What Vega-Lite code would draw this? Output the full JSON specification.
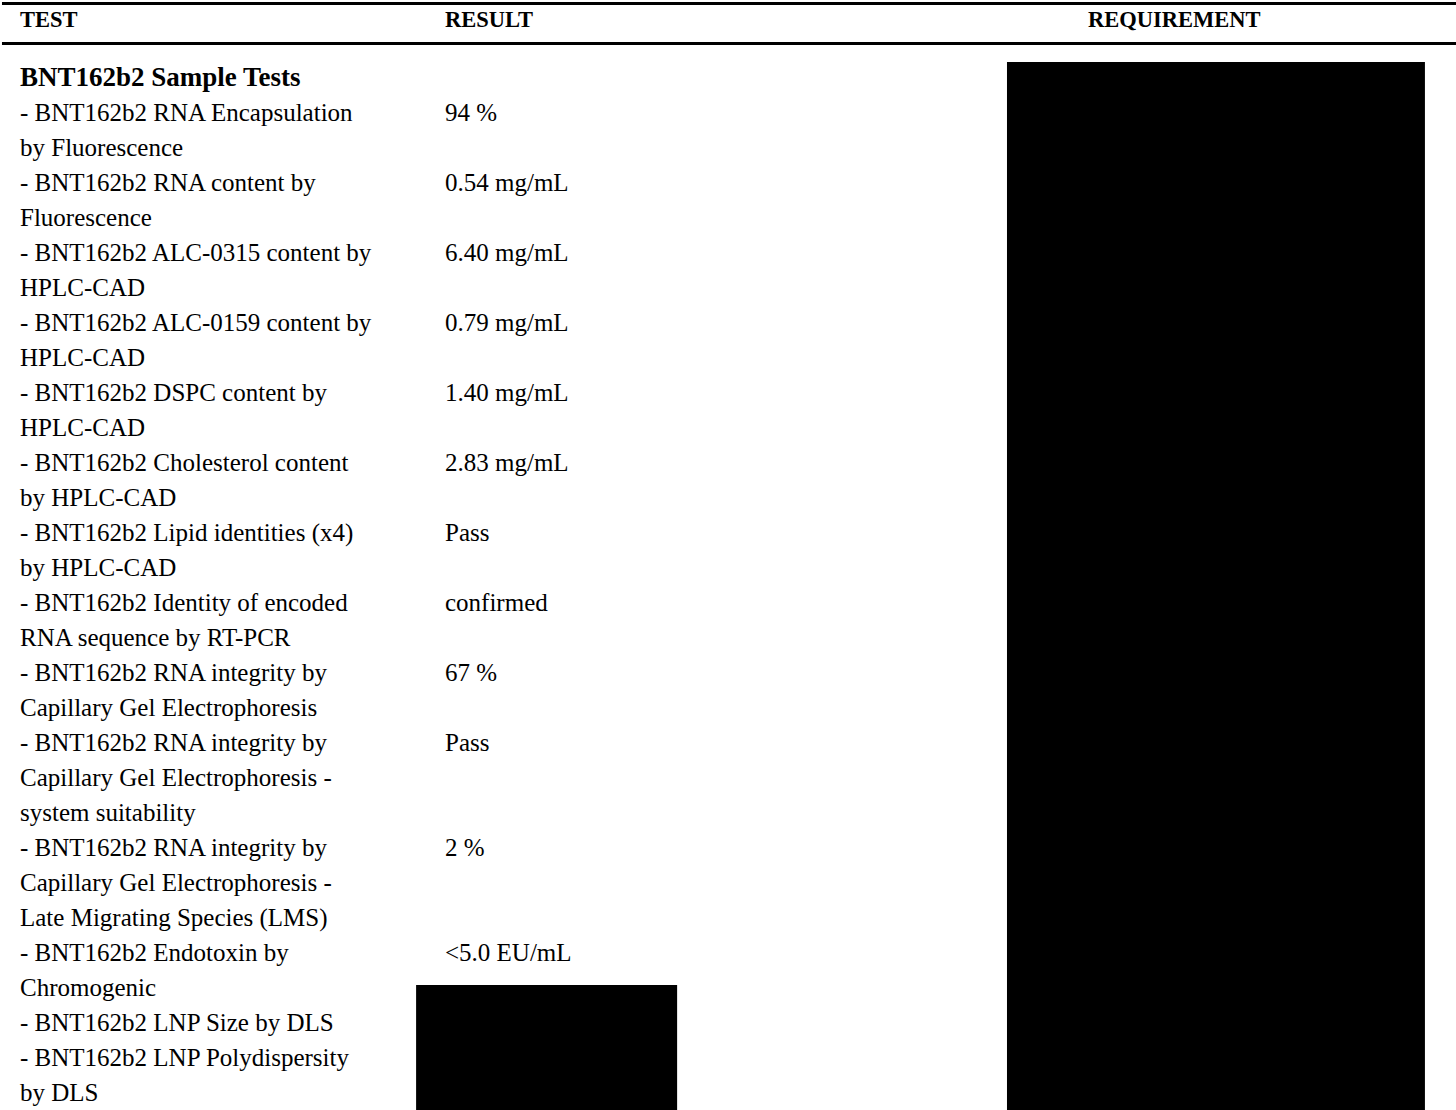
{
  "$schema": "https://vega.github.io/schema/vega-lite/v6.json",
  "width": 1456,
  "height": 1110,
  "autosize": {"type": "fit", "contains": "padding"},
  "padding": 0,
  "background": "white",
  "config": {"view": {"stroke": null}},
  "datasets": {
    "cells": [
      {"line": -1.657, "col": 0, "text": "TEST", "style": "header"},
      {"line": -1.657, "col": 1, "text": "RESULT", "style": "header"},
      {"line": -1.657, "col": 2, "text": "REQUIREMENT", "style": "header"},
      {"line": 0, "col": 0, "text": "BNT162b2 Sample Tests", "style": "section"},
      {"line": 1, "col": 0, "text": "- BNT162b2 RNA Encapsulation", "style": "body"},
      {"line": 1, "col": 1, "text": "94 %", "style": "body"},
      {"line": 2, "col": 0, "text": "by Fluorescence", "style": "body"},
      {"line": 3, "col": 0, "text": "- BNT162b2 RNA content by", "style": "body"},
      {"line": 3, "col": 1, "text": "0.54 mg/mL", "style": "body"},
      {"line": 4, "col": 0, "text": "Fluorescence", "style": "body"},
      {"line": 5, "col": 0, "text": "- BNT162b2 ALC-0315 content by", "style": "body"},
      {"line": 5, "col": 1, "text": "6.40 mg/mL", "style": "body"},
      {"line": 6, "col": 0, "text": "HPLC-CAD", "style": "body"},
      {"line": 7, "col": 0, "text": "- BNT162b2 ALC-0159 content by", "style": "body"},
      {"line": 7, "col": 1, "text": "0.79 mg/mL", "style": "body"},
      {"line": 8, "col": 0, "text": "HPLC-CAD", "style": "body"},
      {"line": 9, "col": 0, "text": "- BNT162b2 DSPC content by", "style": "body"},
      {"line": 9, "col": 1, "text": "1.40 mg/mL", "style": "body"},
      {"line": 10, "col": 0, "text": "HPLC-CAD", "style": "body"},
      {"line": 11, "col": 0, "text": "- BNT162b2 Cholesterol content", "style": "body"},
      {"line": 11, "col": 1, "text": "2.83 mg/mL", "style": "body"},
      {"line": 12, "col": 0, "text": "by HPLC-CAD", "style": "body"},
      {"line": 13, "col": 0, "text": "- BNT162b2 Lipid identities (x4)", "style": "body"},
      {"line": 13, "col": 1, "text": "Pass", "style": "body"},
      {"line": 14, "col": 0, "text": "by HPLC-CAD", "style": "body"},
      {"line": 15, "col": 0, "text": "- BNT162b2 Identity of encoded", "style": "body"},
      {"line": 15, "col": 1, "text": "confirmed", "style": "body"},
      {"line": 16, "col": 0, "text": "RNA sequence by RT-PCR", "style": "body"},
      {"line": 17, "col": 0, "text": "- BNT162b2 RNA integrity by", "style": "body"},
      {"line": 17, "col": 1, "text": "67 %", "style": "body"},
      {"line": 18, "col": 0, "text": "Capillary Gel Electrophoresis", "style": "body"},
      {"line": 19, "col": 0, "text": "- BNT162b2 RNA integrity by", "style": "body"},
      {"line": 19, "col": 1, "text": "Pass", "style": "body"},
      {"line": 20, "col": 0, "text": "Capillary Gel Electrophoresis -", "style": "body"},
      {"line": 21, "col": 0, "text": "system suitability", "style": "body"},
      {"line": 22, "col": 0, "text": "- BNT162b2 RNA integrity by", "style": "body"},
      {"line": 22, "col": 1, "text": "2 %", "style": "body"},
      {"line": 23, "col": 0, "text": "Capillary Gel Electrophoresis -", "style": "body"},
      {"line": 24, "col": 0, "text": "Late Migrating Species (LMS)", "style": "body"},
      {"line": 25, "col": 0, "text": "- BNT162b2 Endotoxin by", "style": "body"},
      {"line": 25, "col": 1, "text": "<5.0 EU/mL", "style": "body"},
      {"line": 26, "col": 0, "text": "Chromogenic", "style": "body"},
      {"line": 27, "col": 0, "text": "- BNT162b2 LNP Size by DLS", "style": "body"},
      {"line": 28, "col": 0, "text": "- BNT162b2 LNP Polydispersity", "style": "body"},
      {"line": 29, "col": 0, "text": "by DLS", "style": "body"}
    ],
    "rules": [
      {"line": -2.129, "from": -0.0424, "to": 2.576},
      {"line": -0.986, "from": -0.0424, "to": 2.576}
    ],
    "redactions": [
      {"from": 1.874, "to": 2.524, "top": -0.457, "bottom": 29.486},
      {"from": 0.932, "to": 1.361, "top": 25.914, "bottom": 29.486}
    ]
  },
  "layer": [
    {
      "data": {"name": "rules"},
      "mark": {"type": "rule", "stroke": "black", "strokeWidth": 3},
      "encoding": {
        "y": {"field": "line", "type": "quantitative", "scale": {"domain": [-2.2286, 29.486], "reverse": true, "zero": false, "nice": false}, "axis": null},
        "x": {"field": "from", "type": "quantitative", "scale": {"domain": [0, 1, 2], "range": [16, 441, 1084], "zero": false, "nice": false}, "axis": null},
        "x2": {"field": "to"}
      }
    },
    {
      "data": {"name": "redactions"},
      "mark": {"type": "rect", "fill": "black"},
      "encoding": {
        "x": {"field": "from", "type": "quantitative", "axis": null},
        "x2": {"field": "to"},
        "y": {"field": "top", "type": "quantitative", "axis": null},
        "y2": {"field": "bottom"}
      }
    },
    {
      "data": {"name": "cells"},
      "transform": [{"filter": "datum.style === 'body'"}],
      "mark": {"type": "text", "align": "left", "baseline": "middle", "font": "Liberation Serif", "fontSize": 25, "color": "black"},
      "encoding": {
        "x": {"field": "col", "type": "quantitative", "axis": null},
        "y": {"field": "line", "type": "quantitative", "axis": null},
        "text": {"field": "text"}
      }
    },
    {
      "data": {"name": "cells"},
      "transform": [{"filter": "datum.style === 'section'"}],
      "mark": {"type": "text", "align": "left", "baseline": "middle", "font": "Liberation Serif", "fontSize": 27, "fontWeight": "bold", "color": "black"},
      "encoding": {
        "x": {"field": "col", "type": "quantitative", "axis": null},
        "y": {"field": "line", "type": "quantitative", "axis": null},
        "text": {"field": "text"}
      }
    },
    {
      "data": {"name": "cells"},
      "transform": [{"filter": "datum.style === 'header'"}],
      "mark": {"type": "text", "align": "left", "baseline": "middle", "font": "Liberation Serif", "fontSize": 22.5, "fontWeight": "bold", "color": "black"},
      "encoding": {
        "x": {"field": "col", "type": "quantitative", "axis": null},
        "y": {"field": "line", "type": "quantitative", "axis": null},
        "text": {"field": "text"}
      }
    }
  ]
}
